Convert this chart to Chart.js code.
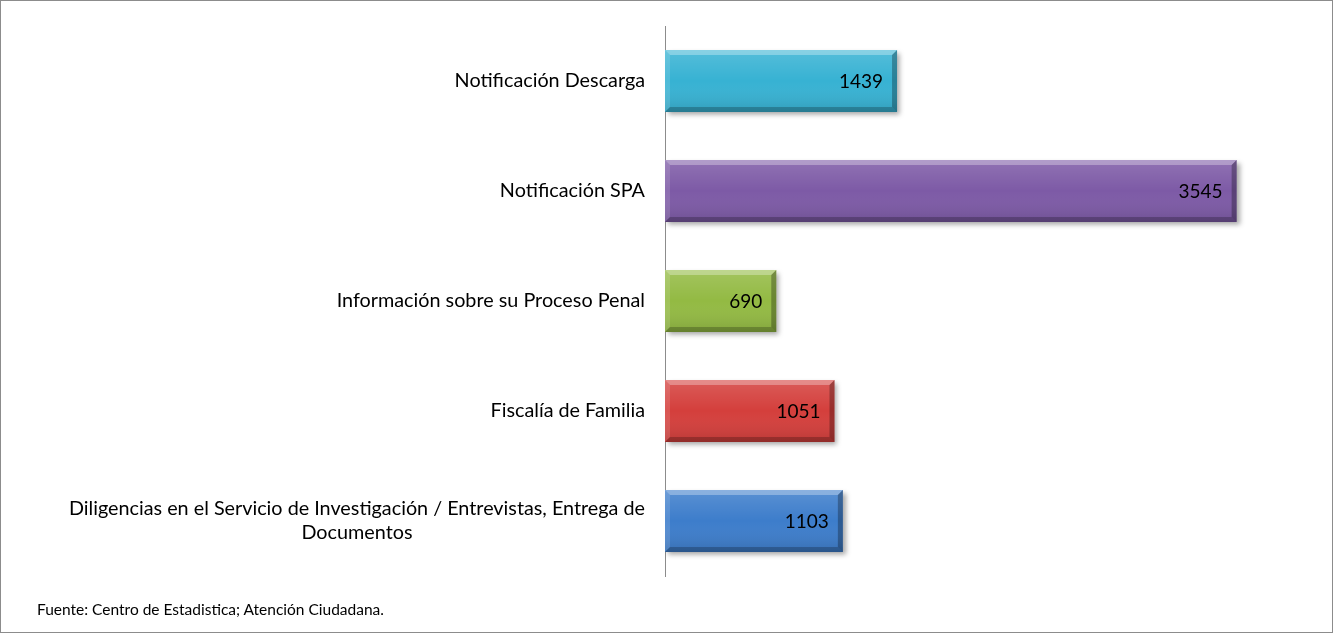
<!DOCTYPE html>
<html>
<head>
<meta charset="utf-8">
<script src="https://cdn.jsdelivr.net/npm/chart.js@4"></script>
<style>
    body { margin: 0; background: #fff; }
    #wrap {
        position: relative;
        width: 1333px;
        height: 633px;
        box-sizing: border-box;
        border: 1px solid #8c8c8c;
    }
    #note {
        position: absolute;
        left: 36px;
        top: 599px;
        font-family: Lato, sans-serif;
        font-size: 15.5px;
        color: #000;
    }
</style>
</head>
<body>
<div id="wrap">
    <canvas id="chart" width="1331" height="631"></canvas>
    <div id="note">Fuente: Centro de Estadistica; Atención Ciudadana.</div>
</div>
<script>
const categories = [
    ['Notificación Descarga'],
    ['Notificación SPA'],
    ['Información sobre su Proceso Penal'],
    ['Fiscalía de Familia'],
    ['Diligencias en el Servicio de Investigación / Entrevistas, Entrega de', 'Documentos']
];
const values = [1439, 3545, 690, 1051, 1103];
const barColors = ['#37b2d3', '#7d5aa6', '#93ba43', '#d43f3c', '#3d7dcb'];

const labelFont = '19.8px Lato, sans-serif';
const valueFont = '19px Lato, sans-serif';

// drop shadow under the bars
const shadowPlugin = {
    id: 'shadow',
    beforeDatasetsDraw(chart) {
        const ctx = chart.ctx;
        ctx.save();
        ctx.shadowColor = 'rgba(0,0,0,0.35)';
        ctx.shadowBlur = 5;
        ctx.shadowOffsetX = 3;
        ctx.shadowOffsetY = 3;
    },
    afterDatasetsDraw(chart) {
        chart.ctx.restore();
    }
};

// bevel edges + value labels
const bevelPlugin = {
    id: 'bevel',
    afterDatasetsDraw(chart) {
        const ctx = chart.ctx;
        const meta = chart.getDatasetMeta(0);
        meta.data.forEach((bar, i) => {
            const x0 = bar.base, x1 = bar.x;
            const y0 = bar.y - bar.height / 2, y1 = bar.y + bar.height / 2;
            const b = 5;
            ctx.save();
            // soft vertical sheen
            const g = ctx.createLinearGradient(0, y0, 0, y1);
            g.addColorStop(0, 'rgba(255,255,255,0.15)');
            g.addColorStop(0.5, 'rgba(255,255,255,0.0)');
            g.addColorStop(1, 'rgba(0,0,0,0.12)');
            ctx.fillStyle = g;
            ctx.fillRect(x0, y0, x1 - x0, y1 - y0);

            const poly = (pts, color) => {
                ctx.beginPath();
                ctx.moveTo(pts[0][0], pts[0][1]);
                for (let k = 1; k < pts.length; k++) ctx.lineTo(pts[k][0], pts[k][1]);
                ctx.closePath();
                ctx.fillStyle = color;
                ctx.fill();
            };
            poly([[x0, y0], [x1, y0], [x1 - b, y0 + b], [x0 + b, y0 + b]], 'rgba(255,255,255,0.3)');
            poly([[x0, y0], [x0 + b, y0 + b], [x0 + b, y1 - b], [x0, y1]], 'rgba(255,255,255,0.12)');
            poly([[x0, y1], [x0 + b, y1 - b], [x1 - b, y1 - b], [x1, y1]], 'rgba(0,0,0,0.22)');
            poly([[x1, y0], [x1, y1], [x1 - b, y1 - b], [x1 - b, y0 + b]], 'rgba(0,0,0,0.28)');

            ctx.fillStyle = '#000';
            ctx.font = valueFont;
            ctx.textAlign = 'right';
            ctx.textBaseline = 'middle';
            ctx.fillText(String(values[i]), x1 - 14, bar.y + 1);
            ctx.restore();
        });
    }
};

// category labels, lines centred on each other and right aligned as a block
const categoryLabelPlugin = {
    id: 'categoryLabels',
    afterDraw(chart) {
        const ctx = chart.ctx;
        const yScale = chart.scales.y;
        const right = chart.chartArea.left - 20;
        const lineHeight = 24;
        ctx.save();
        ctx.font = labelFont;
        ctx.fillStyle = '#000';
        ctx.textBaseline = 'middle';
        ctx.textAlign = 'center';
        categories.forEach((lines, i) => {
            const cy = yScale.getPixelForTick(i);
            const widest = Math.max(...lines.map(l => ctx.measureText(l).width));
            const cx = right - widest / 2;
            const top = cy - (lines.length - 1) * lineHeight / 2;
            lines.forEach((line, k) => {
                ctx.fillText(line, cx, top + k * lineHeight);
            });
        });
        ctx.restore();
    }
};

new Chart(document.getElementById('chart').getContext('2d'), {
    type: 'bar',
    data: {
        labels: categories.map(c => c.join(' ')),
        datasets: [{
            data: values,
            backgroundColor: barColors,
            borderWidth: 0,
            categoryPercentage: 1,
            barPercentage: 0.565
        }]
    },
    options: {
        indexAxis: 'y',
        responsive: false,
        animation: false,
        layout: {
            padding: { left: 0, right: 22, top: 25, bottom: 56 }
        },
        scales: {
            x: {
                display: false,
                min: 0,
                max: 4000
            },
            y: {
                grid: { display: false },
                border: { display: true, color: '#8c8c8c', width: 1 },
                ticks: { display: false },
                afterFit(scale) {
                    scale.width = 664;
                }
            }
        },
        plugins: {
            legend: { display: false },
            tooltip: { enabled: false }
        }
    },
    plugins: [shadowPlugin, bevelPlugin, categoryLabelPlugin]
});
</script>
</body>
</html>
